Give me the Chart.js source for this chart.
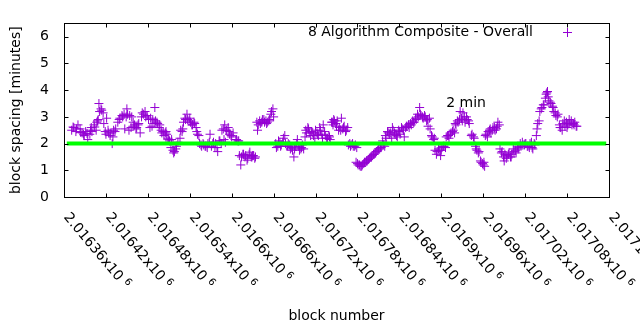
<!DOCTYPE html>
<html>
<head>
<meta charset="utf-8">
<script src="https://cdn.jsdelivr.net/npm/chart.js@4.4.1/dist/chart.umd.min.js"></script>
<style>
  html, body { margin: 0; padding: 0; background: #fff; }
  canvas { display: block; }
</style>
</head>
<body>
<canvas id="chart-espacamento" width="640" height="330"></canvas>
<script>
// =================================================================
// Espaçamento de blocos - 8 Algorithm Composite
// =================================================================

// Números de bloco (eixo x)
const blockNumbers = [
    2016371, 2016373, 2016374, 2016377, 2016378, 2016380, 2016383, 2016384, 2016386, 2016388, 2016389, 2016391, 2016393, 2016394,
    2016397, 2016398, 2016399, 2016400, 2016403, 2016404, 2016406, 2016407, 2016408, 2016409, 2016410, 2016411, 2016413, 2016414,
    2016416, 2016417, 2016419, 2016420, 2016421, 2016423, 2016424, 2016426, 2016427, 2016429, 2016430, 2016431, 2016433, 2016434,
    2016437, 2016439, 2016440, 2016443, 2016444, 2016446, 2016447, 2016449, 2016450, 2016451, 2016453, 2016454, 2016456, 2016457,
    2016459, 2016460, 2016461, 2016463, 2016464, 2016466, 2016467, 2016469, 2016471, 2016472, 2016474, 2016476, 2016477, 2016479,
    2016481, 2016483, 2016484, 2016486, 2016487, 2016489, 2016490, 2016491, 2016493, 2016494, 2016496, 2016497,
    2016499, 2016500, 2016502, 2016503, 2016505, 2016506, 2016507, 2016509, 2016510, 2016511, 2016513, 2016514, 2016516, 2016517,
    2016518, 2016520, 2016521, 2016523, 2016526, 2016527, 2016529, 2016530, 2016531, 2016533, 2016534, 2016536, 2016537, 2016539,
    2016540, 2016541, 2016543, 2016544, 2016546, 2016547, 2016549, 2016550, 2016551, 2016553,
    2016554, 2016556, 2016557, 2016559, 2016560, 2016562, 2016563, 2016565, 2016566, 2016568, 2016569, 2016571, 2016573, 2016574,
    2016576, 2016577, 2016579, 2016580, 2016582, 2016583, 2016585, 2016586, 2016588, 2016589, 2016590, 2016591, 2016592, 2016593,
    2016595, 2016596, 2016597, 2016599, 2016600, 2016602,
    2016606, 2016607, 2016609, 2016610, 2016611, 2016613, 2016614, 2016616, 2016617, 2016619, 2016620, 2016622, 2016623, 2016625,
    2016626, 2016628, 2016629, 2016630, 2016631, 2016633, 2016634,
    2016636, 2016637, 2016638, 2016640, 2016641, 2016643, 2016644, 2016646, 2016647, 2016649, 2016650, 2016651, 2016653, 2016654,
    2016656, 2016657, 2016659, 2016660,
    2016663, 2016664, 2016666, 2016667, 2016669, 2016670, 2016671, 2016673, 2016674, 2016676, 2016677, 2016679, 2016680, 2016681,
    2016683, 2016684, 2016686, 2016687, 2016689, 2016690, 2016691, 2016693, 2016694, 2016696, 2016697, 2016699, 2016700, 2016701,
    2016703,
    2016705, 2016706, 2016707, 2016709, 2016710, 2016711, 2016713, 2016714, 2016716, 2016717, 2016719, 2016720, 2016722, 2016723,
    2016724, 2016726, 2016727, 2016729, 2016730, 2016731, 2016733, 2016734, 2016736, 2016737, 2016739, 2016740, 2016741,
    2016743, 2016744, 2016745, 2016746, 2016747, 2016749, 2016750, 2016751, 2016753, 2016754, 2016756, 2016757, 2016759, 2016760,
    2016761, 2016763, 2016764, 2016766, 2016767, 2016769, 2016770, 2016771, 2016773, 2016774, 2016776, 2016777, 2016779,
    2016778, 2016780, 2016781, 2016783, 2016784, 2016786, 2016787, 2016789, 2016790, 2016791, 2016793, 2016794, 2016796, 2016797,
    2016799, 2016800, 2016801, 2016803, 2016804, 2016806, 2016807, 2016809, 2016810, 2016811, 2016813, 2016814, 2016816, 2016817,
    2016819,
    2016820, 2016821, 2016823, 2016824, 2016826, 2016827, 2016829, 2016830, 2016831, 2016833, 2016834, 2016836, 2016837, 2016839,
    2016840, 2016841, 2016843, 2016844, 2016846, 2016847, 2016849, 2016850, 2016851, 2016853, 2016854, 2016856, 2016857, 2016859,
    2016860, 2016861, 2016863, 2016864, 2016866, 2016867, 2016869,
    2016870, 2016871, 2016873, 2016874, 2016876, 2016877, 2016879, 2016880, 2016881, 2016883, 2016884, 2016886, 2016887, 2016889,
    2016890, 2016891, 2016893, 2016894, 2016896, 2016897, 2016899, 2016900, 2016901, 2016903, 2016904, 2016906,
    2016907, 2016909, 2016910, 2016911, 2016913, 2016914, 2016916, 2016917, 2016919, 2016920, 2016921, 2016923, 2016924, 2016926,
    2016927, 2016929, 2016930, 2016931, 2016933, 2016934, 2016936, 2016937, 2016939, 2016940,
    2016943, 2016944, 2016946, 2016947, 2016949, 2016950, 2016951, 2016953, 2016954, 2016956, 2016957, 2016959, 2016960, 2016961,
    2016962,
    2016963, 2016964, 2016966, 2016967, 2016969, 2016970, 2016971, 2016973, 2016974, 2016976, 2016977, 2016979, 2016980, 2016981,
    2016983,
    2016984, 2016986, 2016987, 2016989, 2016990, 2016991, 2016993, 2016994, 2016996, 2016997, 2016999, 2017000, 2017001, 2017003,
    2017004, 2017006, 2017007, 2017009, 2017010, 2017011,
    2017013, 2017014, 2017016, 2017017, 2017019, 2017020, 2017021, 2017023, 2017024, 2017026, 2017027, 2017029, 2017030, 2017031,
    2017033, 2017034, 2017036, 2017037,
    2017038, 2017040, 2017041, 2017043, 2017044, 2017046, 2017047, 2017049, 2017050, 2017051, 2017052, 2017053, 2017054, 2017056,
    2017057, 2017059, 2017060, 2017061, 2017063, 2017064, 2017066, 2017067,
    2017069, 2017070, 2017071, 2017073, 2017074, 2017076, 2017077, 2017079, 2017080, 2017081, 2017083, 2017084, 2017086, 2017087,
    2017089, 2017090, 2017091, 2017093, 2017094
];

// Espaçamento dos blocos em minutos (eixo y), mesma ordem de blockNumbers
const spacingMinutes = [
    2.5, 2.62, 2.6, 2.45, 2.55, 2.7, 2.55, 2.42, 2.4, 2.35, 2.3, 2.45, 2.38, 2.15,
    2.35, 2.5, 2.6, 2.45, 2.7, 2.62, 2.5, 2.8, 2.85, 2.9, 3.5, 3.2, 3.3, 3.25,
    3.15, 2.75, 2.45, 2.35, 2.95, 2.5, 2.4, 2.3, 2.4, 2.0, 2.25, 2.5, 2.45, 2.55,
    2.8, 2.9, 2.95, 3.05, 3.0, 3.1, 2.55, 3.0, 3.3, 3.1, 2.5, 3.05, 2.6, 3.0,
    2.8, 2.65, 2.7, 2.55, 2.6, 2.7, 2.75, 2.4, 3.0, 3.15, 3.1, 3.2, 3.0, 3.05,
    2.9, 2.6, 2.95, 2.65, 2.9, 2.75, 3.35, 2.85, 2.8, 2.75, 2.6, 2.7,
    2.5, 2.4, 2.45, 2.3, 2.4, 2.45, 2.35, 2.2, 2.15, 2.1, 1.85, 2.15, 1.75, 1.65,
    1.7, 1.8, 1.9, 2.05, 2.2, 2.5, 2.45, 2.55, 2.8, 2.95, 2.9, 3.1, 2.9, 2.85,
    2.95, 2.8, 2.7, 2.7, 2.8, 2.75, 2.6, 2.45, 2.35, 2.3,
    2.0, 1.95, 1.9, 2.0, 1.95, 1.9, 1.9, 1.85, 2.0, 2.05, 2.35, 1.9, 2.0, 2.05,
    1.85, 2.0, 1.85, 1.7, 2.1, 2.1, 2.0, 2.5, 2.55, 2.15, 2.7, 2.05, 2.5, 2.5,
    2.6, 2.45, 2.35, 2.3, 2.25, 2.4,
    2.15, 2.15, 2.1, 2.1, 1.55, 1.2, 1.5, 1.6, 1.6, 1.5, 1.55, 1.38, 1.45, 1.6,
    1.68, 1.5, 1.5, 1.55, 1.55, 1.45, 1.5,
    2.8, 2.5, 2.7, 2.85, 2.75, 2.8, 2.9, 2.9, 2.8, 2.85, 2.75, 2.8, 2.85, 2.9,
    3.1, 3.2, 3.3, 3.0,
    2.0, 1.85, 1.9, 2.1, 2.05, 1.9, 1.95, 2.05, 2.2, 2.3, 2.0, 1.9, 1.9, 2.0,
    1.95, 1.8, 1.85, 1.75, 1.5, 1.8, 1.9, 2.0, 2.15, 1.9, 1.75, 1.8, 1.85, 1.95,
    1.8,
    2.25, 2.5, 2.4, 2.6, 2.55, 2.4, 2.3, 2.45, 2.4, 2.3, 2.2, 2.5, 2.4, 2.35,
    2.3, 2.6, 2.5, 2.35, 2.2, 2.7, 2.45, 2.3, 2.2, 2.2, 2.3, 2.25, 2.15,
    2.8, 2.8, 2.7, 2.9, 2.85, 2.75, 2.65, 2.85, 2.5, 2.6, 2.5, 2.95, 2.55, 2.6,
    2.65, 2.45, 2.5, 2.6, 1.95, 2.0, 1.9, 1.95, 2.0, 1.9, 1.9, 1.95, 1.85,
    1.3, 1.25, 1.2, 1.2, 1.15, 1.15, 1.2, 1.25, 1.3, 1.3, 1.35, 1.35, 1.4, 1.45,
    1.5, 1.5, 1.55, 1.6, 1.6, 1.65, 1.7, 1.75, 1.8, 1.8, 1.85, 1.85, 2.1, 1.95,
    1.9,
    2.3, 2.2, 2.45, 2.4, 2.35, 2.4, 2.2, 2.6, 2.5, 2.4, 2.35, 2.3, 2.25, 2.5,
    2.45, 2.35, 2.6, 2.55, 2.5, 2.25, 2.6, 2.65, 2.65, 2.7, 2.6, 2.75, 2.7, 2.85,
    2.8, 2.8, 2.95, 2.9, 3.1, 3.0, 3.35,
    3.1, 3.05, 3.0, 2.95, 3.05, 3.0, 2.85, 2.9, 2.65, 2.95, 2.55, 2.3, 2.25, 2.15,
    2.2, 1.75, 1.6, 1.7, 1.8, 1.75, 1.55, 1.75, 1.85, 1.9, 1.9, 1.85,
    2.25, 2.3, 2.3, 2.2, 2.35, 2.4, 2.45, 2.5, 2.4, 2.75, 2.7, 2.85, 2.8, 2.9,
    3.2, 2.95, 2.85, 3.15, 3.0, 2.8, 3.0, 2.9, 2.85, 2.75,
    2.3, 2.35, 2.25, 2.2, 1.9, 1.8, 1.75, 1.65, 1.7, 1.35, 1.3, 1.25, 1.2, 1.3,
    1.15,
    2.3, 2.35, 2.25, 2.45, 2.5, 2.55, 2.4, 2.5, 2.6, 2.6, 2.5, 2.55, 2.65, 2.8,
    2.7,
    1.8, 1.65, 1.7, 1.5, 1.35, 1.6, 1.45, 1.55, 1.6, 1.65, 1.5, 1.5, 1.6, 1.8,
    1.7, 1.75, 1.65, 1.9, 1.8, 1.85,
    2.0, 1.9, 2.05, 1.95, 1.95, 2.0, 2.0, 1.9, 1.9, 1.85, 2.0, 2.05, 1.85, 1.8,
    2.0, 1.95, 2.3, 2.55,
    2.75, 2.85, 3.2, 3.3, 3.35, 3.45, 3.45, 3.7, 3.85, 3.9, 3.95, 3.75, 3.6, 3.55,
    3.5, 3.4, 3.35, 3.2, 3.15, 3.05, 3.0, 3.1,
    2.7, 2.6, 2.6, 2.5, 2.75, 2.85, 2.65, 2.8, 2.6, 2.7, 2.9, 2.75, 2.85, 2.7,
    2.75, 2.7, 2.8, 2.65, 2.65
];

// Linha de referência de 2 minutos
const targetBlocks = [2016364, 2017136];
const targetMinutes = [2, 2];

// Rótulos do eixo x (mantissa de x10^6)
const xTickMantissas = ['2.01636', '2.01642', '2.01648', '2.01654', '2.0166', '2.01666', '2.01672',
    '2.01678', '2.01684', '2.0169', '2.01696', '2.01702', '2.01708', '2.01714'];
const xTickExponent = '6';

// Textos
const seriesLabel = '8 Algorithm Composite - Overall';
const targetLabel = '2 min';
const targetLabelAt = [2016907, 3.5];

const FONTE = '"DejaVu Sans", sans-serif';
const ROXO = '#9400d3';

// Moldura estilo gnuplot: borda, ticks internos, rótulos girados, legenda
const molduraGnuplot = {
    id: 'molduraGnuplot',
    afterDraw(chart) {
        const ctx = chart.ctx;
        const area = chart.chartArea;
        const xScale = chart.scales.x;
        const yScale = chart.scales.y;
        const L = Math.round(area.left) + 0.5;
        const R = Math.round(area.right) + 0.5;
        const T = Math.round(area.top) + 0.5;
        const B = Math.round(area.bottom) + 0.5;
        const tick = 4;

        ctx.save();
        ctx.strokeStyle = '#000';
        ctx.lineWidth = 1;
        ctx.strokeRect(L, T, R - L, B - T);

        ctx.beginPath();
        yScale.ticks.forEach(t => {
            const py = Math.round(yScale.getPixelForValue(t.value)) + 0.5;
            ctx.moveTo(L, py); ctx.lineTo(L + tick, py);
            ctx.moveTo(R, py); ctx.lineTo(R - tick, py);
        });
        xScale.ticks.forEach(t => {
            const px = Math.round(xScale.getPixelForValue(t.value)) + 0.5;
            ctx.moveTo(px, B); ctx.lineTo(px, B - tick);
            ctx.moveTo(px, T); ctx.lineTo(px, T + tick);
        });
        ctx.stroke();

        // Rótulos do eixo x, girados no sentido horário
        ctx.fillStyle = '#000';
        xScale.ticks.forEach((t, i) => {
            const texto = xTickMantissas[i];
            if (!texto) return;
            const px = xScale.getPixelForValue(t.value);
            ctx.save();
            ctx.translate(px + 2, area.bottom + 18);
            ctx.rotate(50 * Math.PI / 180);
            ctx.textAlign = 'left';
            ctx.textBaseline = 'middle';
            ctx.font = '14px ' + FONTE;
            const principal = texto + 'x10';
            ctx.fillText(principal, 0, 0);
            const w = ctx.measureText(principal).width;
            ctx.font = '10px ' + FONTE;
            ctx.fillText(xTickExponent, w + 4, -4);
            ctx.restore();
        });

        // Legenda
        ctx.font = '14px ' + FONTE;
        ctx.textAlign = 'right';
        ctx.textBaseline = 'middle';
        ctx.fillText(seriesLabel, 533, 32);
        ctx.strokeStyle = ROXO;
        ctx.beginPath();
        ctx.moveTo(563, 32.5); ctx.lineTo(572, 32.5);
        ctx.moveTo(567.5, 28); ctx.lineTo(567.5, 37);
        ctx.stroke();

        // Rótulo "2 min" em coordenadas de dados
        ctx.textAlign = 'left';
        ctx.fillText(targetLabel, xScale.getPixelForValue(targetLabelAt[0]), yScale.getPixelForValue(targetLabelAt[1]));
        ctx.restore();
    }
};

const pontos = blockNumbers.map((b, i) => ({ x: b, y: spacingMinutes[i] }));
const linhaAlvo = targetBlocks.map((b, i) => ({ x: b, y: targetMinutes[i] }));

Chart.defaults.font.family = FONTE;
Chart.defaults.font.size = 14;
Chart.defaults.color = '#000';

new Chart(document.getElementById('chart-espacamento'), {
    type: 'scatter',
    data: {
        datasets: [
            {
                label: seriesLabel,
                data: pontos,
                pointStyle: 'cross',
                pointRadius: 4.5,
                borderColor: ROXO,
                borderWidth: 1,
                order: 2
            },
            {
                label: targetLabel,
                data: linhaAlvo,
                showLine: true,
                borderColor: '#00ff00',
                borderWidth: 4,
                pointRadius: 0,
                order: 1
            }
        ]
    },
    options: {
        responsive: false,
        animation: false,
        devicePixelRatio: 1,
        layout: { padding: { top: 19, right: 31, left: 0, bottom: 0 } },
        plugins: { legend: { display: false }, tooltip: { enabled: false } },
        scales: {
            x: {
                type: 'linear',
                min: 2016360,
                max: 2017140,
                ticks: { display: false, stepSize: 60, includeBounds: false },
                grid: { display: false, drawTicks: false },
                border: { display: false },
                title: { display: true, text: 'block number', padding: { top: 0, bottom: 5 } },
                afterFit: (scale) => { scale.height = 133; }
            },
            y: {
                min: 0,
                max: 6.5,
                ticks: { stepSize: 1, padding: 15, includeBounds: false },
                grid: { display: false, drawTicks: false },
                border: { display: false },
                title: { display: true, text: 'block spacing [minutes]', padding: { top: 8, bottom: 0 } },
                afterFit: (scale) => { scale.width = 64; }
            }
        }
    },
    plugins: [molduraGnuplot]
});
</script>
</body>
</html>
